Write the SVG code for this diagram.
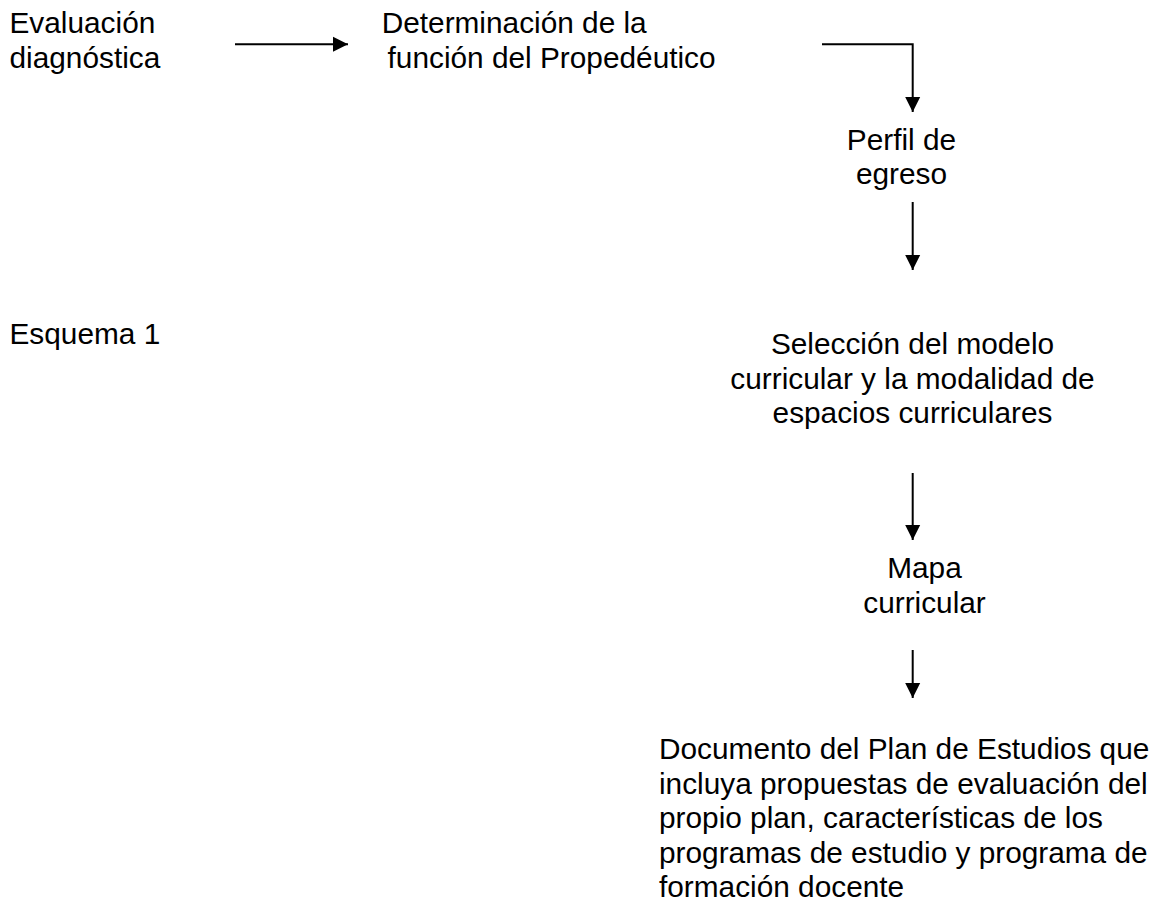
<svg xmlns="http://www.w3.org/2000/svg" width="1165" height="901" viewBox="0 0 1165 901">
<style>
text{font-family:"Liberation Sans",Arial,sans-serif;font-size:29.8px;fill:#000}
.c{text-anchor:middle}
.conn{fill:none;stroke:#000;stroke-width:2;marker-end:url(#ah)}
</style>
<defs>
<marker id="ah" markerUnits="userSpaceOnUse" markerWidth="16" markerHeight="16" refX="15" refY="7.5" orient="auto" overflow="visible">
<path d="M0,0 L15,7.5 L0,15 z" fill="#000"/>
</marker>
</defs>
<rect width="1165" height="901" fill="#fff"/>
<g id="n1"><text x="9.5" y="33">Evaluación</text><text x="9.5" y="67.5">diagnóstica</text></g>
<g id="n2"><text x="381.7" y="33">Determinación de la</text><text x="387.6" y="67.5">función del Propedéutico</text></g>
<g id="n3"><text class="c" x="901.5" y="150">Perfil de</text><text class="c" x="901.5" y="184">egreso</text></g>
<g id="n4"><text class="c" x="912.5" y="354">Selección del modelo</text><text class="c" x="912.5" y="388.5">curricular y la modalidad de</text><text class="c" x="912.5" y="423">espacios curriculares</text></g>
<g id="n5"><text class="c" x="924.5" y="578">Mapa</text><text class="c" x="924.5" y="612.5">curricular</text></g>
<g id="n6"><text x="659" y="759">Documento del Plan de Estudios que</text><text x="659" y="793.5">incluya propuestas de evaluación del</text><text x="659" y="828">propio plan, características de los</text><text x="659" y="862.5">programas de estudio y programa de</text><text x="659" y="897">formación docente</text></g>
<g id="label"><text x="9.5" y="344">Esquema 1</text></g>
<g id="connectors">
<path class="conn" d="M235,44.3 H348"/>
<path class="conn" d="M822,44.3 H912.7 V112"/>
<path class="conn" d="M912.7,202 V270"/>
<path class="conn" d="M912.7,473 V540"/>
<path class="conn" d="M912.7,650 V698"/>
</g>
</svg>
